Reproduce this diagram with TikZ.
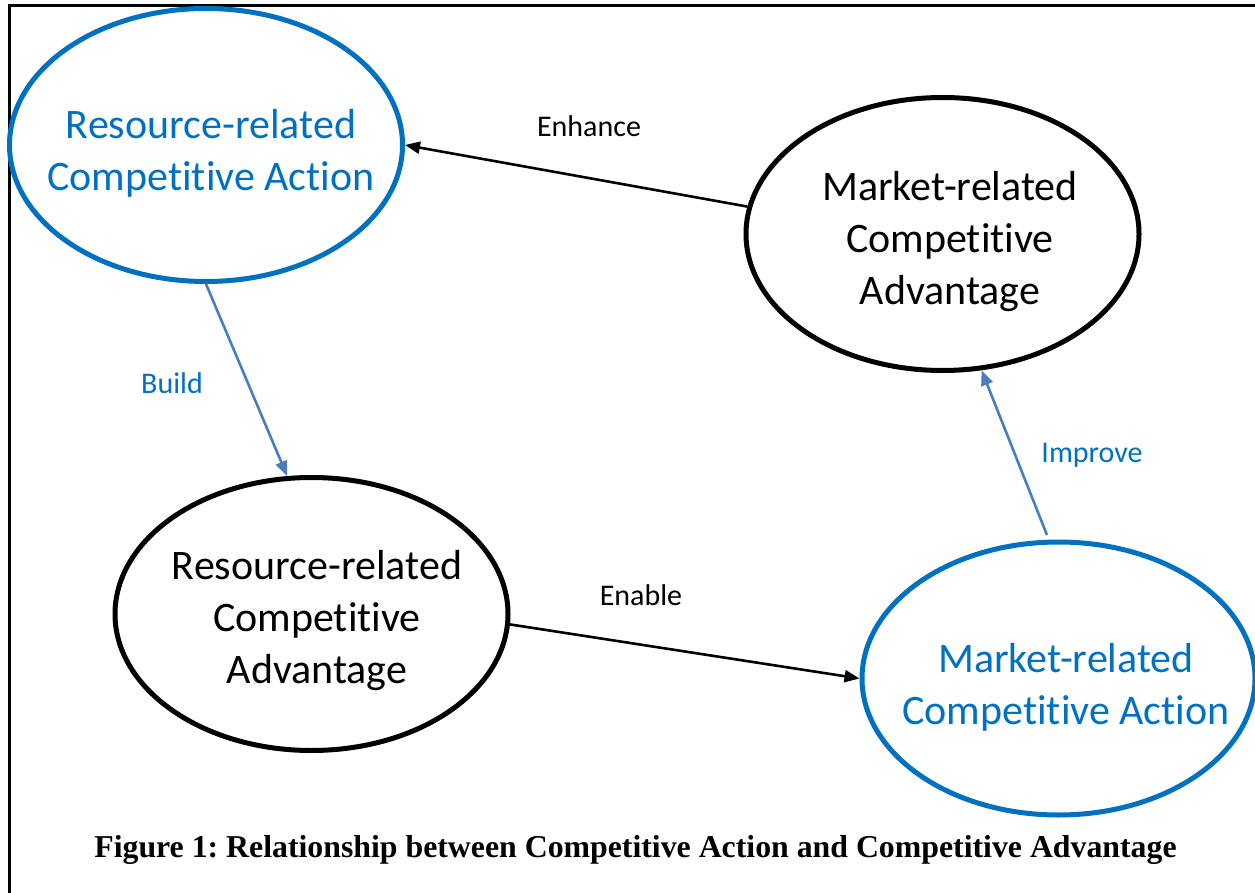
\documentclass[tikz,border=0pt]{standalone}
\usepackage{fontspec}
\setmainfont{Carlito}[Ligatures=NoCommon]
\newfontfamily\capfont{Liberation Serif}
\usetikzlibrary{arrows.meta,shapes.geometric}
\definecolor{accblue}{RGB}{0,112,192}
\definecolor{linkblue}{RGB}{74,126,187}
\frenchspacing
\begin{document}
\begin{tikzpicture}[x=1pt,y=-1pt,
  oval/.style={draw,ellipse,line width=5pt,minimum width=393pt,minimum height=273pt,inner sep=0pt},
  actoval/.style={oval,draw=accblue},
  advoval/.style={oval,draw=black},
  ovaltext/.style={align=center,font=\fontsize{42}{52}\selectfont,inner sep=0pt},
  lbl/.style={anchor=base,inner sep=0pt,font=\fontsize{30}{36}\selectfont},
  blackarrow/.style={line width=2.6pt,draw=black,-{Triangle[length=15pt,width=12pt]}},
  bluearrow/.style={line width=2.6pt,draw=linkblue,-{Triangle[length=15pt,width=12pt]}}]
\useasboundingbox (0,0) rectangle (1255,893);
% frame
\draw[line width=3pt] (9,893) -- (9,6) -- (1255,6);
% ellipses
\node[actoval] (e1) at (206,145) {};
\node[advoval] (e2) at (942.5,234) {};
\node[advoval] (e3) at (311.5,614) {};
\node[actoval] (e4) at (1058.5,678.5) {};
% texts
\node[ovaltext,text=accblue] (e1t) at (211,153) {Resource-related\\Competitive Action};
\node[ovaltext] (e2t) at (950,242) {Market-related\\Competitive\\Advantage};
\node[ovaltext] (e3t) at (317,621) {Resource-related\\Competitive\\Advantage};
\node[ovaltext,text=accblue] (e4t) at (1066,687) {Market-related\\Competitive Action};
% connectors
\draw[blackarrow] (e2.172.5) -- (e1.east);
\draw[bluearrow] (e1.south) -- (e3.100.8);
\draw[blackarrow] (e3.-3.2) -- (e4.west);
\draw[bluearrow,shorten <=5pt] (e4.94.5) -- (e2.-74.3);
% labels
\node[lbl] (lenh) at (589,137) {Enhance};
\node[lbl,text=accblue] (lbuild) at (172,393) {Build};
\node[lbl] (lenab) at (641,605) {Enable};
\node[lbl,text=accblue] (limp) at (1092,462) {Improve};
% caption
\node[anchor=base,inner sep=0pt,font=\capfont\bfseries\fontsize{31.8}{36}\selectfont] (cap) at (635.5,857) {Figure 1: Relationship between Competitive Action and Competitive Advantage};
\end{tikzpicture}
\end{document}
